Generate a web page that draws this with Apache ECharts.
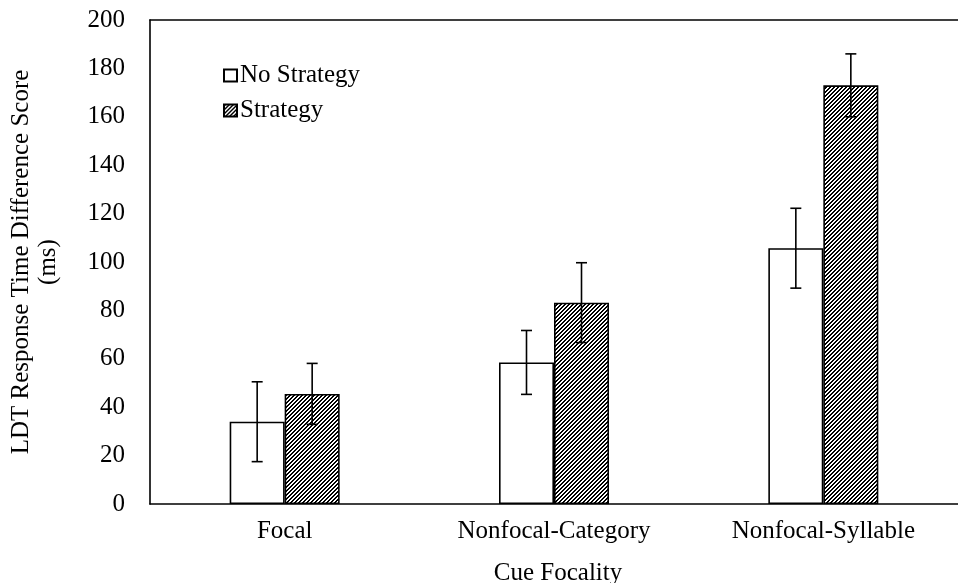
<!DOCTYPE html>
<html>
<head>
<meta charset="utf-8">
<script src="https://cdn.jsdelivr.net/npm/echarts@6/dist/echarts.min.js"></script>
<style>
  html, body { margin: 0; padding: 0; background: #ffffff; }
  #chart { width: 958px; height: 583px; }
</style>
</head>
<body>
<div id="chart"></div>
<script>
// Mean LDT difference scores (ms) and their error-bar half-lengths
const categories = ['Focal', 'Nonfocal-Category', 'Nonfocal-Syllable'];
const noStrategy = [34, 58.5, 105.7];
const noStrategyErr = [16.5, 13.2, 16.5];
const strategy = [45.5, 83.2, 173];
const strategyErr = [12.6, 16.5, 13];
const seriesNames = ['No Strategy', 'Strategy'];
const yMin = 0, yMax = 200, yStep = 20;

const FONT = '"Liberation Serif", "Times New Roman", serif';
const FS = 25;
const BAR_W = 55;

// Diagonal "/" hatch tile for the Strategy bars
function hatchTile(p) {
  const c = document.createElement('canvas');
  c.width = p; c.height = p;
  const ctx = c.getContext('2d');
  const img = ctx.createImageData(p, p);
  for (let y = 0; y < p; y++) {
    for (let x = 0; x < p; x++) {
      const k = (x + y) % p;
      const v = k < p / 2 ? 0 : 255;
      const i = (y * p + x) * 4;
      img.data[i] = v; img.data[i + 1] = v; img.data[i + 2] = v; img.data[i + 3] = 255;
    }
  }
  ctx.putImageData(img, 0, 0);
  return c;
}

function errorBars(means, errs, offset) {
  return {
    type: 'custom',
    silent: true,
    z: 10,
    data: means.map((m, i) => [i, m, errs[i]]),
    encode: { x: 0, y: 1 },
    renderItem(params, api) {
      const i = api.value(0), m = api.value(1), e = api.value(2);
      const hi = api.coord([i, m + e]);
      const lo = api.coord([i, m - e]);
      const x = hi[0] + offset;
      const cap = 5.5;
      const st = { stroke: '#000', lineWidth: 1.6 };
      return {
        type: 'group',
        children: [
          { type: 'line', shape: { x1: x, y1: hi[1], x2: x, y2: lo[1] }, style: st },
          { type: 'line', shape: { x1: x - cap, y1: hi[1], x2: x + cap, y2: hi[1] }, style: st },
          { type: 'line', shape: { x1: x - cap, y1: lo[1], x2: x + cap, y2: lo[1] }, style: st }
        ]
      };
    }
  };
}

const chart = echarts.init(document.getElementById('chart'), null, { renderer: 'canvas' });

chart.setOption({
  animation: false,
  backgroundColor: '#ffffff',
  textStyle: { fontFamily: FONT, color: '#000' },
  grid: { left: 149, top: 20, width: 819, height: 484, containLabel: false },
  legend: {
    data: seriesNames,
    orient: 'vertical',
    left: 223,
    top: 63,
    padding: 0,
    itemWidth: 13,
    itemHeight: 12,
    itemGap: 10,
    icon: 'rect',
    textStyle: { fontFamily: FONT, fontSize: FS, lineHeight: 25, color: '#000', padding: [0, 0, 0, -2] },
    selectedMode: false
  },
  xAxis: [
    {
      type: 'category',
      data: categories,
      axisLine: { show: true, lineStyle: { color: '#000', width: 1.6 } },
      axisTick: { show: false },
      axisLabel: { fontFamily: FONT, fontSize: FS, color: '#000', margin: 15 }
    },
    {
      type: 'category',
      position: 'top',
      data: categories,
      axisLine: { show: true, lineStyle: { color: '#000', width: 1.6 } },
      axisTick: { show: false },
      axisLabel: { show: false }
    }
  ],
  yAxis: {
    type: 'value',
    min: yMin,
    max: yMax,
    interval: yStep,
    axisLine: { show: true, lineStyle: { color: '#000', width: 1.6 } },
    axisTick: { show: false },
    splitLine: { show: false },
    axisLabel: { fontFamily: FONT, fontSize: FS, color: '#000', margin: 25, padding: [6, 0, 0, 0] },
    name: 'LDT Response Time Difference Score\n(ms)',
    nameLocation: 'middle',
    nameGap: 88,
    nameRotate: 90,
    nameTextStyle: { fontFamily: FONT, fontSize: FS, lineHeight: 27, color: '#000', align: 'center' }
  },
  graphic: [
    {
      type: 'text',
      x: 558,
      y: 573,
      style: { text: 'Cue Focality', font: FS + 'px ' + FONT, fill: '#000', align: 'center', verticalAlign: 'middle' }
    }
  ],
  series: [
    {
      name: seriesNames[0],
      type: 'bar',
      data: noStrategy,
      barWidth: BAR_W,
      barGap: '0%',
      itemStyle: { color: '#ffffff', borderColor: '#000', borderWidth: 1.6 }
    },
    {
      name: seriesNames[1],
      type: 'bar',
      data: strategy,
      barWidth: BAR_W,
      barGap: '0%',
      itemStyle: { color: { image: hatchTile(4), repeat: 'repeat' }, borderColor: '#000', borderWidth: 1.6 }
    },
    errorBars(noStrategy, noStrategyErr, -BAR_W / 2),
    errorBars(strategy, strategyErr, BAR_W / 2)
  ]
});
</script>
</body>
</html>
